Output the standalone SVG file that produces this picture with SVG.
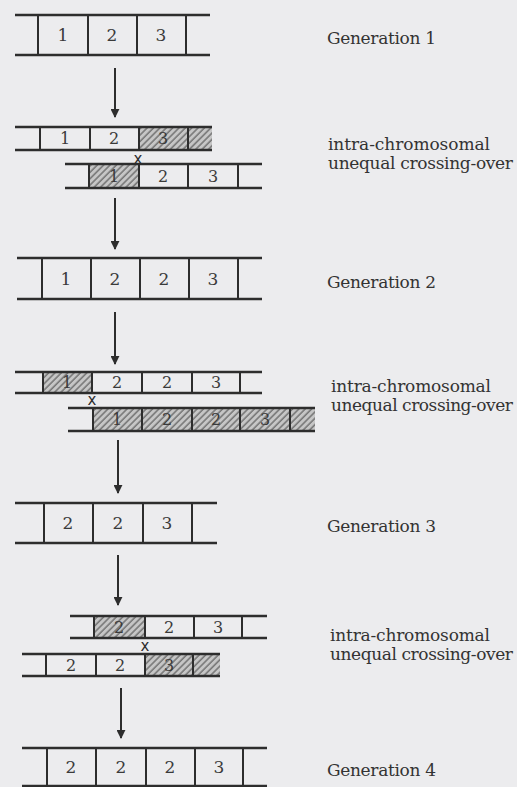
<svg xmlns="http://www.w3.org/2000/svg" width="517" height="787" viewBox="0 0 517 787">
  <defs>
    <pattern id="hatch" width="4.5" height="4.5" patternUnits="userSpaceOnUse" patternTransform="rotate(45)">
      <rect width="4.5" height="4.5" fill="#c6c6c6"/>
      <line x1="1" y1="0" x2="1" y2="4.5" stroke="#666" stroke-width="1.3"/>
    </pattern>
    <marker id="head" viewBox="0 0 10 10" refX="9" refY="5" markerWidth="4.5" markerHeight="4.5" orient="auto" markerUnits="strokeWidth">
      <path d="M0,0 L10,5 L0,10 z" fill="#2d2d2d"/>
    </marker>
  </defs>
  <style>
    .rail { stroke: #2d2d2d; stroke-width: 2.6; fill: none; }
    .div { stroke: #2d2d2d; stroke-width: 2; fill: none; }
    .hatch { fill: url(#hatch); }
    .num { font-family: "DejaVu Serif", "Liberation Serif", serif; font-size: 16px; fill: #3a3a3a; text-anchor: middle; }
    .big { font-size: 17px; }
    .cross { font-family: "DejaVu Sans", sans-serif; font-size: 15px; fill: #2d2d2d; text-anchor: middle; }
    .label { font-family: "DejaVu Serif", "Liberation Serif", serif; font-size: 17px; fill: #333; }
    .arrow { stroke: #2d2d2d; stroke-width: 2; fill: none; marker-end: url(#head); }
  </style>

  <rect width="517" height="787" fill="#ececee"/>

  <!-- Generation 1 -->
  <g id="gen1">
    <path class="rail" d="M15 15 H210 M15 55 H210"/>
    <path class="div" d="M38 15 V55 M88 15 V55 M137 15 V55 M186 15 V55"/>
    <text class="num big" x="63" y="41">1</text>
    <text class="num big" x="112" y="41">2</text>
    <text class="num big" x="161" y="41">3</text>
  </g>

  <!-- first unequal crossing-over -->
  <g id="cross1-top">
    <rect class="hatch" x="139" y="127" width="73" height="23"/>
    <path class="rail" d="M15 127 H212 M15 150 H212"/>
    <path class="div" d="M40 127 V150 M90 127 V150 M139 127 V150 M188 127 V150"/>
    <text class="num" x="65" y="144">1</text>
    <text class="num" x="114" y="144">2</text>
    <text class="num" x="163" y="144">3</text>
  </g>
  <g id="cross1-bottom">
    <rect class="hatch" x="89" y="164" width="50" height="24"/>
    <path class="rail" d="M65 164 H262 M65 188 H262"/>
    <path class="div" d="M89 164 V188 M139 164 V188 M188 164 V188 M238 164 V188"/>
    <text class="num" x="114" y="182">1</text>
    <text class="num" x="163" y="182">2</text>
    <text class="num" x="213" y="182">3</text>
  </g>
  <text id="cross1-x" class="cross" x="138" y="164">x</text>

  <!-- Generation 2 -->
  <g id="gen2">
    <path class="rail" d="M17 258 H262 M17 299 H262"/>
    <path class="div" d="M42 258 V299 M91 258 V299 M140 258 V299 M189 258 V299 M238 258 V299"/>
    <text class="num big" x="66" y="285">1</text>
    <text class="num big" x="115" y="285">2</text>
    <text class="num big" x="164" y="285">2</text>
    <text class="num big" x="213" y="285">3</text>
  </g>

  <!-- second unequal crossing-over -->
  <g id="cross2-top">
    <rect class="hatch" x="43" y="372" width="49" height="21"/>
    <path class="rail" d="M15 372 H262 M15 393 H262"/>
    <path class="div" d="M43 372 V393 M92 372 V393 M142 372 V393 M192 372 V393 M240 372 V393"/>
    <text class="num" x="67" y="388">1</text>
    <text class="num" x="117" y="388">2</text>
    <text class="num" x="167" y="388">2</text>
    <text class="num" x="216" y="388">3</text>
  </g>
  <g id="cross2-bottom">
    <rect class="hatch" x="93" y="408" width="222" height="23"/>
    <path class="rail" d="M68 408 H315 M68 431 H315"/>
    <path class="div" d="M93 408 V431 M142 408 V431 M192 408 V431 M240 408 V431 M290 408 V431"/>
    <text class="num" x="117" y="425">1</text>
    <text class="num" x="167" y="425">2</text>
    <text class="num" x="216" y="425">2</text>
    <text class="num" x="265" y="425">3</text>
  </g>
  <text id="cross2-x" class="cross" x="92" y="405">x</text>

  <!-- Generation 3 -->
  <g id="gen3">
    <path class="rail" d="M15 503 H217 M15 543 H217"/>
    <path class="div" d="M44 503 V543 M93 503 V543 M143 503 V543 M192 503 V543"/>
    <text class="num big" x="68" y="529">2</text>
    <text class="num big" x="118" y="529">2</text>
    <text class="num big" x="167" y="529">3</text>
  </g>

  <!-- third unequal crossing-over -->
  <g id="cross3-top">
    <rect class="hatch" x="94" y="616" width="51" height="22"/>
    <path class="rail" d="M70 616 H267 M70 638 H267"/>
    <path class="div" d="M94 616 V638 M145 616 V638 M194 616 V638 M242 616 V638"/>
    <text class="num" x="119" y="633">2</text>
    <text class="num" x="169" y="633">2</text>
    <text class="num" x="218" y="633">3</text>
  </g>
  <g id="cross3-bottom">
    <rect class="hatch" x="145" y="654" width="75" height="22"/>
    <path class="rail" d="M22 654 H220 M22 676 H220"/>
    <path class="div" d="M46 654 V676 M96 654 V676 M145 654 V676 M193 654 V676"/>
    <text class="num" x="71" y="671">2</text>
    <text class="num" x="120" y="671">2</text>
    <text class="num" x="169" y="671">3</text>
  </g>
  <text id="cross3-x" class="cross" x="145" y="651">x</text>

  <!-- Generation 4 -->
  <g id="gen4">
    <path class="rail" d="M22 748 H267 M22 786 H267"/>
    <path class="div" d="M47 748 V786 M96 748 V786 M146 748 V786 M195 748 V786 M243 748 V786"/>
    <text class="num big" x="71" y="773">2</text>
    <text class="num big" x="121" y="773">2</text>
    <text class="num big" x="170" y="773">2</text>
    <text class="num big" x="219" y="773">3</text>
  </g>

  <!-- arrows between stages -->
  <g id="connectors">
    <line class="arrow" x1="115" y1="68" x2="115" y2="117"/>
    <line class="arrow" x1="115" y1="198" x2="115" y2="249"/>
    <line class="arrow" x1="115" y1="312" x2="115" y2="364"/>
    <line class="arrow" x1="118" y1="440" x2="118" y2="493"/>
    <line class="arrow" x1="118" y1="555" x2="118" y2="605"/>
    <line class="arrow" x1="121" y1="688" x2="121" y2="738"/>
  </g>

  <!-- side labels -->
  <g id="labels">
    <text class="label" x="327" y="44" textLength="109">Generation 1</text>
    <text class="label" x="328" y="150" textLength="162">intra-chromosomal</text>
    <text class="label" x="328" y="169" textLength="185">unequal crossing-over</text>
    <text class="label" x="327" y="288" textLength="109">Generation 2</text>
    <text class="label" x="331" y="392" textLength="160">intra-chromosomal</text>
    <text class="label" x="331" y="411" textLength="182">unequal crossing-over</text>
    <text class="label" x="327" y="532" textLength="109">Generation 3</text>
    <text class="label" x="330" y="641" textLength="160">intra-chromosomal</text>
    <text class="label" x="330" y="660" textLength="183">unequal crossing-over</text>
    <text class="label" x="327" y="776" textLength="109">Generation 4</text>
  </g>
</svg>
